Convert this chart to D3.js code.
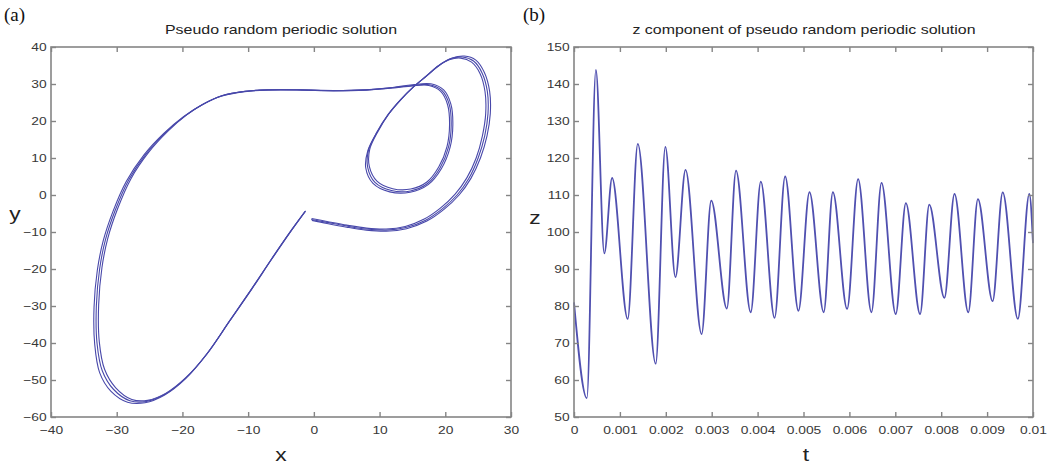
<!DOCTYPE html>
<html>
<head>
<meta charset="utf-8">
<script src="https://cdn.jsdelivr.net/npm/d3@7"></script>
<style>
  body { margin: 0; background: #fff; }
  svg { display: block; }
</style>
</head>
<body>
<svg id="chart" width="1054" height="467"></svg>
<script>
// ---- Panel (a): phase portrait, three laps of the trajectory in the (x, y) plane ----
const lap1 = [
  [-0.4,-6.6],[2,-7.4],[5,-8.4],[8,-9.2],[11,-9.5],[14,-8.8],[17,-6.8],[19.5,-3.8],[21.8,0],[23.6,4.5],
  [25,10],[26,16],[26.5,22],[26.4,28],[25.6,33],[24.3,36.2],[22.6,37.3],[20.8,36.8],[19,35],[17.2,32.3],
  [15.2,29.3],[13.2,25.8],[11.3,21.8],[9.6,17],[8.3,12],[8.2,7.4],[9.3,3.4],[11.8,1.2],[14.7,1.1],[17.3,3.1],
  [19.2,7.3],[20.5,13],[20.9,19],[20.6,24.5],[19.5,28.2],[17.6,29.8],[15,29.6],[12,29],[8,28.4],[3,28.2],
  [-2,28.4],[-7,28.4],[-10.5,28],[-14,26.8],[-17,24.4],[-19.6,21.4],[-22.5,17],[-25.5,11.2],[-28.2,4],[-30.2,-4],
  [-31.7,-12],[-32.6,-20],[-33.1,-30],[-33,-40],[-32.2,-47.5],[-30.5,-52.5],[-28,-55.6],[-25.5,-55.8],[-22.6,-53.8],[-19.5,-49.5],
  [-16.3,-43],[-12.8,-34],[-9.5,-25.5],[-6.5,-17.5],[-3.8,-10.5],[-1.3,-4.4]
];
const lap2 = [
  [-0.3,-6.85],[2,-7.7],[5,-8.7],[8,-9.5],[11,-9.8],[14.1,-9.1],[17.2,-7.05],[19.8,-3.9],[22.1,0],[23.9,4.5],
  [25.35,10],[26.35,16],[26.85,22],[26.75,28],[25.95,33.1],[24.65,36.45],[22.9,37.55],[21.05,37],[19.2,35.2],[17.3,32.4],
  [15.25,29.35],[13.3,25.9],[11.4,21.9],[9.8,17.3],[8.5,12.3],[8.45,7.65],[9.6,3.75],[12,1.7],[14.75,1.6],[17.2,3.5],
  [19,7.55],[20.25,13],[20.65,19],[20.35,24.4],[19.3,28],[17.5,29.6],[15,29.5],[12,28.9],[8,28.35],[3,28.15],
  [-2,28.35],[-7,28.35],[-10.55,27.95],[-14.1,26.7],[-17.2,24.2],[-19.85,21.15],[-22.8,16.7],[-25.85,10.85],[-28.55,3.65],[-30.55,-4.35],
  [-32.05,-12.35],[-32.95,-20.35],[-33.45,-30.3],[-33.35,-40.3],[-32.6,-48],[-30.9,-53],[-28.35,-56],[-25.7,-56.15],[-22.7,-54.05],[-19.55,-49.7],
  [-16.35,-43.1],[-12.85,-34.1],[-9.55,-25.55],[-6.55,-17.55],[-3.85,-10.55],[-1.35,-4.5]
];
const lap3 = [
  [-0.35,-6.35],[2,-7.15],[5,-8.15],[8,-8.95],[11,-9.2],[13.9,-8.5],[16.8,-6.5],[19.25,-3.55],[21.5,0.25],[23.3,4.7],
  [24.7,10],[25.65,16],[26.15,22],[26.05,27.9],[25.3,32.8],[24,35.9],[22.35,37],[20.6,36.55],[18.9,34.8],[17.1,32.1],
  [15.15,29.2],[13.15,25.6],[11.25,21.55],[9.55,16.75],[8.2,11.9],[7.9,7.3],[9,3.15],[11.55,0.85],[14.65,0.75],[17.4,2.8],
  [19.4,7.1],[20.75,13],[21.15,19],[20.85,24.55],[19.75,28.4],[17.8,30.05],[15,29.8],[12,29.05],[8,28.45],[3,28.25],
  [-2,28.45],[-7,28.45],[-10.45,28.05],[-13.9,26.9],[-16.8,24.6],[-19.35,21.65],[-22.2,17.25],[-25.15,11.5],[-27.85,4.35],[-29.85,-3.65],
  [-31.35,-11.65],[-32.25,-19.65],[-32.75,-29.7],[-32.65,-39.7],[-31.85,-47.1],[-30.15,-52.1],[-27.7,-55.25],[-25.3,-55.5],[-22.5,-53.55],[-19.45,-49.3],
  [-16.25,-42.9],[-12.75,-33.9],[-9.45,-25.45],[-6.45,-17.45],[-3.75,-10.45],[-1.25,-4.3]
];
const xTicksA = [-40, -30, -20, -10, 0, 10, 20, 30];
const yTicksA = [-60, -50, -40, -30, -20, -10, 0, 10, 20, 30, 40];

// ---- Panel (b): z component against time (turning points of the oscillation) ----
const tValues = [0, 0.00028, 0.000477, 0.00066, 0.00083, 0.00117, 0.00139, 0.00178, 0.00199, 0.00221,
  0.00243, 0.00278, 0.00299, 0.00333, 0.00353, 0.00385, 0.00407, 0.00437, 0.00460, 0.00489,
  0.00513, 0.00544, 0.00564, 0.00595, 0.00619, 0.00648, 0.00670, 0.00701, 0.00723, 0.00754,
  0.00774, 0.00807, 0.00829, 0.00859, 0.00880, 0.00912, 0.00934, 0.00967, 0.00992, 0.01];
const zValues = [81, 55.1, 143.8, 94.2, 114.6, 76.5, 123.8, 64.4, 123, 87.8,
  116.8, 72.4, 108.5, 79.3, 116.6, 78.3, 113.6, 76.8, 115, 78.7,
  110.8, 78.3, 110.8, 79.2, 114.3, 78.3, 113.3, 77.8, 107.8, 77.8,
  107.4, 82.2, 110.3, 78.3, 108.9, 81.3, 110.7, 76.5, 110.3, 97];
const tTicks = [0, 0.001, 0.002, 0.003, 0.004, 0.005, 0.006, 0.007, 0.008, 0.009, 0.01];
const tTickLabels = ["0", "0.001", "0.002", "0.003", "0.004", "0.005", "0.006", "0.007", "0.008", "0.009", "0.01"];
const zTicks = [50, 60, 70, 80, 90, 100, 110, 120, 130, 140, 150];

// ---- styling ----
const SANS = "'Liberation Sans', Arial, sans-serif";
const SERIF = "'Liberation Serif', 'Times New Roman', serif";
const FRAME = "#858585";
const LABEL = "#383838";
const LINE = "#4848aa";
const STRETCH = 1.2;      // text in this figure is set slightly wide
const TICK = 5;

const svg = d3.select("#chart");

function widen(sel) {
  sel.attr("transform", function () {
    const prev = d3.select(this).attr("transform") || "";
    return prev + ` scale(${STRETCH},1)`;
  });
}

function framedAxes(g, x, y, xt, xFmt, yt) {
  const [x0, x1] = x.range();
  const [y0, y1] = y.range();
  g.append("rect")
    .attr("x", x0).attr("y", y1)
    .attr("width", x1 - x0).attr("height", y0 - y1)
    .attr("fill", "none").attr("stroke", FRAME).attr("stroke-width", 1.6);

  const bottom = g.append("g").attr("transform", `translate(0,${y0})`)
    .call(d3.axisBottom(x).tickValues(xt).tickFormat(xFmt).tickSize(-TICK).tickPadding(9));
  const left = g.append("g").attr("transform", `translate(${x0},0)`)
    .call(d3.axisLeft(y).tickValues(yt).tickSize(-TICK).tickPadding(3.6));
  const top = g.append("g").attr("transform", `translate(0,${y1})`)
    .call(d3.axisTop(x).tickValues(xt).tickFormat("").tickSize(-TICK));
  const right = g.append("g").attr("transform", `translate(${x1},0)`)
    .call(d3.axisRight(y).tickValues(yt).tickFormat("").tickSize(-TICK));

  [bottom, left, top, right].forEach(a => {
    a.select(".domain").remove();
    a.selectAll(".tick line").attr("stroke", FRAME).attr("stroke-width", 1.4);
    a.selectAll(".tick text")
      .attr("fill", LABEL)
      .style("font-family", SANS)
      .style("font-size", "11.5px");
  });
  widen(bottom.selectAll(".tick text"));
  widen(left.selectAll(".tick text"));
}

function title(g, cx, text, len) {
  g.append("text")
    .attr("x", cx).attr("y", 34)
    .attr("text-anchor", "middle")
    .attr("textLength", len).attr("lengthAdjust", "spacingAndGlyphs")
    .attr("fill", "#222")
    .style("font-family", SANS).style("font-size", "13px")
    .text(text);
}

function axisLabel(g, cx, baseline, text) {
  g.append("text")
    .attr("transform", `translate(${cx},${baseline}) scale(${STRETCH},1)`)
    .attr("text-anchor", "middle")
    .attr("fill", "#222")
    .style("font-family", SANS).style("font-size", "19px")
    .text(text);
}

function panelTag(x, text) {
  svg.append("text")
    .attr("x", x).attr("y", 21)
    .attr("fill", "#111")
    .style("font-family", SERIF).style("font-size", "19px")
    .text(text);
}

// ---- panel (a) ----
const xA = d3.scaleLinear().domain([-40, 30]).range([51, 511]);
const yA = d3.scaleLinear().domain([-60, 40]).range([417, 47]);
const gA = svg.append("g");

const traj = d3.line()
  .x(d => xA(d[0])).y(d => yA(d[1]))
  .curve(d3.curveCatmullRom.alpha(0.5));

gA.selectAll("path.lap")
  .data([lap1, lap2, lap3])
  .join("path")
  .attr("class", "lap")
  .attr("d", traj)
  .attr("fill", "none")
  .attr("stroke", LINE)
  .attr("stroke-width", 1.1)
  .attr("stroke-linejoin", "round");

framedAxes(gA, xA, yA, xTicksA, d3.format("d"), yTicksA);
title(gA, 281, "Pseudo random periodic solution", 232);
axisLabel(gA, 281, 461, "x");
axisLabel(gA, 15, 220, "y");
panelTag(4, "(a)");

// ---- panel (b) ----
const xB = d3.scaleLinear().domain([0, 0.01]).range([574, 1033]);
const yB = d3.scaleLinear().domain([50, 150]).range([417, 47]);
const gB = svg.append("g");

const series = tValues.map((t, i) => [t, zValues[i]]);
gB.append("path")
  .datum(series)
  .attr("d", d3.line().x(d => xB(d[0])).y(d => yB(d[1])).curve(d3.curveMonotoneX))
  .attr("fill", "none")
  .attr("stroke", "#5050b0")
  .attr("stroke-width", 1.8);

framedAxes(gB, xB, yB, tTicks, (d, i) => tTickLabels[i], zTicks);
title(gB, 804, "z component of pseudo random periodic solution", 343);
axisLabel(gB, 806, 461, "t");
axisLabel(gB, 535, 224, "z");
panelTag(523, "(b)");
</script>
</body>
</html>
